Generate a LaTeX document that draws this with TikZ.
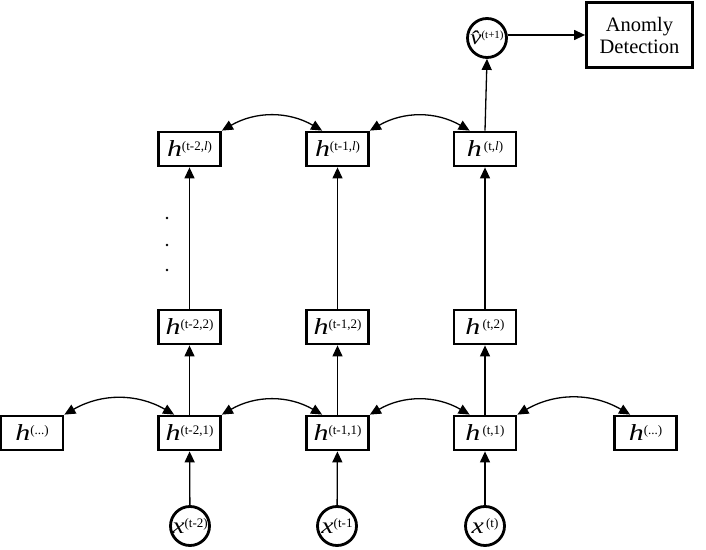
\documentclass[tikz,border=0pt]{standalone}
\usepackage{fontspec}
\setmainfont{Liberation Serif}
\usetikzlibrary{arrows.meta}
\newcommand{\hlab}[1]{\scalebox{1.3}[1]{\fontsize{23}{23}\selectfont\itshape h}\raisebox{6pt}{\fontsize{13}{13}\selectfont #1}}
\newcommand{\xlab}[1]{\scalebox{1.2}[1]{\fontsize{23}{23}\selectfont\itshape x}\raisebox{6pt}{\fontsize{13}{13}\selectfont #1}}
\begin{document}
\begin{tikzpicture}[x=1pt,y=1pt,
  hbox/.style={draw, line width=2.8pt, minimum width=62pt, minimum height=34pt, inner sep=0pt},
  circ/.style={draw, circle, line width=2.8pt, minimum size=39pt, inner sep=0pt},
  arr/.style={line width=1.3pt, -{Triangle[length=11pt,width=10pt]}},
  darr/.style={line width=1.3pt, {Triangle[length=11pt,width=10pt]}-{Triangle[length=11pt,width=10pt]}},
  dotn/.style={circle, fill, inner sep=0pt, minimum size=2.8pt}]
\useasboundingbox (0,0) rectangle (706,549);
% top layer
\node[hbox] (h2l) at (189.5,400) {\hlab{(t-2,\textit{l})}};
\node[hbox] (h1l) at (337.5,400) {\hlab{(t-1,\textit{l})}};
\node[hbox] (h0l) at (485,400) {\hlab{\,(t,\textit{l})}};
% second layer
\node[hbox] (h22) at (189.5,222) {\hlab{(t-2,2)}};
\node[hbox] (h12) at (337.5,222) {\hlab{(t-1,2)}};
\node[hbox] (h02) at (485,222) {\hlab{\,(t,2)}};
% first layer
\node[hbox] (hL) at (32,116) {\hlab{(...)}};
\node[hbox] (h21) at (189.5,116) {\hlab{(t-2,1)}};
\node[hbox] (h11) at (337.5,116) {\hlab{(t-1,1)}};
\node[hbox] (h01) at (485,116) {\hlab{\,(t,1)}};
\node[hbox] (hR) at (645.5,116) {\hlab{(...)}};
% inputs
\node[circ] (x2) at (190,23) {\xlab{(t-2)}};
\node[circ] (x1) at (337,23) {\xlab{(t-1}};
\node[circ] (x0) at (485,23) {\xlab{\,(t)}};
% output
\node[circ] (v) at (487,511) {\scalebox{1.2}[1]{\fontsize{21}{21}\selectfont\itshape \^{v}}\raisebox{6pt}{\fontsize{11}{11}\selectfont (t+1)}};
\node[draw, line width=2.8pt, minimum width=106pt, minimum height=65pt, inner sep=0pt, align=center, font=\fontsize{20.5}{22}\selectfont] (ad) at (639.5,514) {Anomly\\Detection};
% dots
\node[dotn] (d1) at (167,331) {};
\node[dotn] (d2) at (167,304) {};
\node[dotn] (d3) at (167,279) {};
% vertical arrows
\draw[arr] (x2) -- (h21);
\draw[arr] (x1) -- (h11);
\draw[arr] (x0) -- (h01);
\draw[arr] (h21) -- (h22);
\draw[arr] (h11) -- (h12);
\draw[arr] (h01) -- (h02);
\draw[arr] (h22) -- (h2l);
\draw[arr] (h12) -- (h1l);
\draw[arr] (h02) -- (h0l);
\draw[arr] (h0l.north) -- (v.south);
\draw[arr] (v.east |- ad.west) -- (ad.west);
% recurrent arrows
\draw[darr] (hL.north east) to[bend left=30] ([xshift=17pt]h21.north west);
\draw[darr] (h21.north east) to[bend left=30] ([xshift=17pt]h11.north west);
\draw[darr] (h11.north east) to[bend left=30] ([xshift=17pt]h01.north west);
\draw[darr] (h01.north east) to[bend left=30] ([xshift=17pt]hR.north west);
\draw[darr] (h2l.north east) to[bend left=30] ([xshift=17pt]h1l.north west);
\draw[darr] (h1l.north east) to[bend left=30] ([xshift=17pt]h0l.north west);
\end{tikzpicture}
\end{document}
